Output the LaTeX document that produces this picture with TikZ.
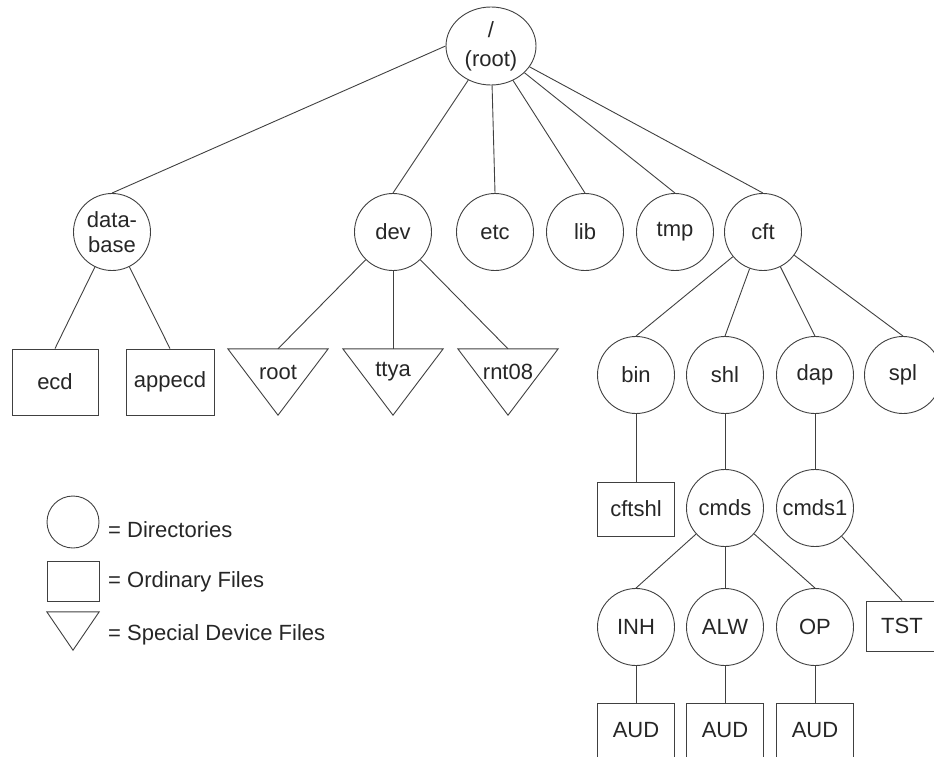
\documentclass[tikz,border=0pt]{standalone}
\usepackage{fontspec}
\setmainfont{Liberation Sans}
\usetikzlibrary{shapes.geometric}
\begin{document}
\begin{tikzpicture}[x=1pt,y=-1pt,
  every node/.style={font=\fontsize{22}{26}\selectfont, text=black!85},
  conn/.style={draw=black!75, line width=0.9pt},
  dir/.style={circle, draw=black!75, line width=0.9pt, minimum size=77pt, inner sep=0pt},
  rootel/.style={ellipse, draw=black!75, line width=0.9pt, minimum width=90pt, minimum height=78pt, inner sep=0pt, align=center},
  filebox/.style={rectangle, draw=black!75, line width=0.9pt, inner sep=0pt},
  tribox/.style={rectangle, draw=none, minimum width=100pt, minimum height=66pt, inner sep=0pt},
  trilbl/.style={inner sep=0pt},
  legtxt/.style={anchor=west, inner sep=0pt}
]
\useasboundingbox (0,0) rectangle (934,757);
% root
\node[rootel] (root) at (491,46) {/\\[3pt](root)};
% level 1
\node[dir, align=center, font=\fontsize{22}{25}\selectfont] (database) at (112,232) {data-\\base};
\node[dir] (dev) at (393,232) {dev};
\node[dir] (etc) at (495,232) {etc};
\node[dir] (lib) at (585,232) {lib};
\node[dir] (tmp) at (675,232) {tmp};
\node[dir] (cft) at (763,232) {cft};
% files under database
\node[filebox, minimum width=86pt, minimum height=66pt] (ecd) at (55,382) {ecd};
\node[filebox, minimum width=88pt, minimum height=66pt] (appecd) at (170,382) {appecd};
% device files
\node[tribox] (troot) at (278,382) {};
\node[tribox] (tttya) at (393,382) {};
\node[tribox] (trnt) at (508,382) {};
\foreach \t in {troot,tttya,trnt}{
  \draw[conn] (\t.north west) -- (\t.north east) -- (\t.south) -- cycle;
}
\node[trilbl] (troot-l) at (278,372) {root};
\node[trilbl] (tttya-l) at (393,372) {ttya};
\node[trilbl] (trnt-l) at (508,372) {rnt08};
% cft subtree
\node[dir] (bin) at (636,375) {bin};
\node[dir] (shl) at (725,375) {shl};
\node[dir] (dap) at (815,375) {dap};
\node[dir] (spl) at (903,375) {spl};
\node[filebox, minimum width=77pt, minimum height=54pt] (cftshl) at (636,509) {cftshl};
\node[dir] (cmds) at (725,508) {cmds};
\node[dir] (cmds1) at (815,508) {cmds1};
\node[dir] (INH) at (636,627) {INH};
\node[dir] (ALW) at (725,627) {ALW};
\node[dir] (OP) at (815,627) {OP};
\node[filebox, minimum width=72pt, minimum height=50pt] (TST) at (902,626) {TST};
\node[filebox, minimum width=77pt, minimum height=54pt] (aud1) at (636,730) {AUD};
\node[filebox, minimum width=77pt, minimum height=54pt] (aud2) at (725,730) {AUD};
\node[filebox, minimum width=77pt, minimum height=54pt] (aud3) at (815,730) {AUD};
% connectors
\draw[conn] (root.west) -- (database.north);
\draw[conn] (root) -- (dev.north);
\draw[conn] (root) -- (etc.north);
\draw[conn] (root) -- (lib.north);
\draw[conn] (root) -- (tmp.north);
\draw[conn] (root) -- (cft.north);
\draw[conn] (database) -- (ecd.north);
\draw[conn] (database) -- (appecd.north);
\draw[conn] (dev) -- (troot.north);
\draw[conn] (dev) -- (tttya.north);
\draw[conn] (dev) -- (trnt.north);
\draw[conn] (cft) -- (bin.north);
\draw[conn] (cft) -- (shl.north);
\draw[conn] (cft) -- (dap.north);
\draw[conn] (cft) -- (spl.north);
\draw[conn] (bin) -- (cftshl);
\draw[conn] (shl) -- (cmds);
\draw[conn] (dap) -- (cmds1);
\draw[conn] (cmds) -- (INH.north);
\draw[conn] (cmds) -- (ALW.north);
\draw[conn] (cmds) -- (OP.north);
\draw[conn] (cmds1) -- (TST.north);
\draw[conn] (INH) -- (aud1);
\draw[conn] (ALW) -- (aud2);
\draw[conn] (OP) -- (aud3);
% legend
\node[dir, minimum size=52pt] (legdir) at (73,522) {};
\node[filebox, minimum width=52pt, minimum height=40pt] (legfile) at (73,581) {};
\node[tribox, minimum width=52pt, minimum height=38pt] (legdev) at (73,631) {};
\draw[conn] (legdev.north west) -- (legdev.north east) -- (legdev.south) -- cycle;
\node[legtxt] (legdir-t) at (108,530) {= Directories};
\node[legtxt] (legfile-t) at (108,582) {= Ordinary Files};
\node[legtxt] (legdev-t) at (108,635) {= Special Device Files};
\end{tikzpicture}
\end{document}
